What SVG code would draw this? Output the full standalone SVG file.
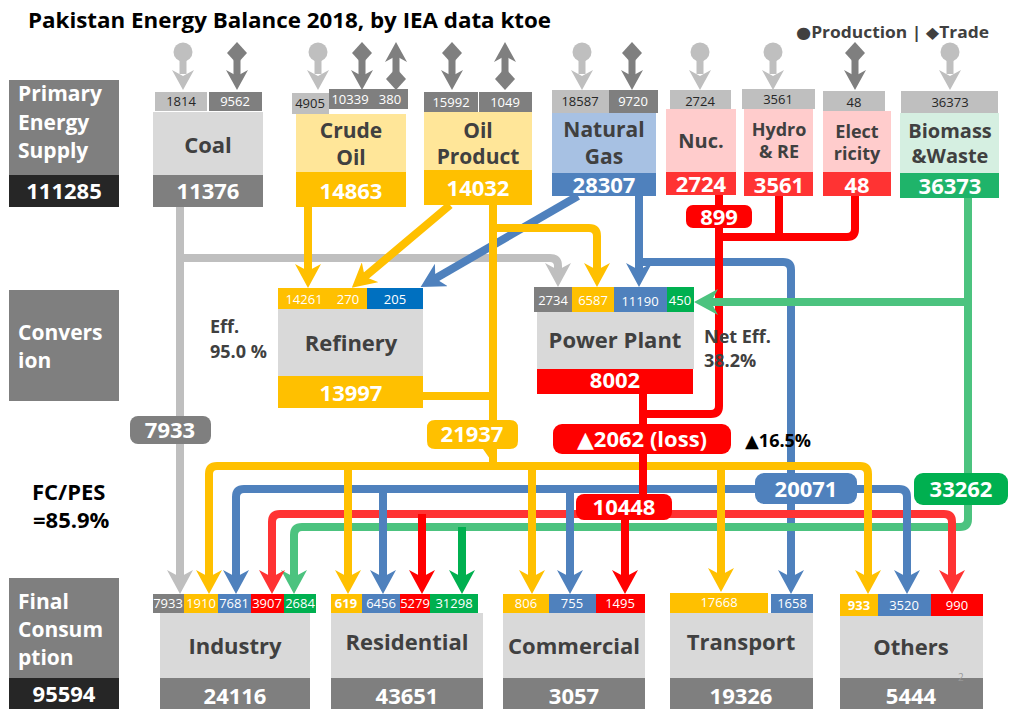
<svg xmlns="http://www.w3.org/2000/svg" width="1024" height="709" viewBox="0 0 1024 709">
<defs>
<style>
text{font-family:"Open Sans","Noto Sans","DejaVu Sans",sans-serif}
.b{font-weight:700}
.w{fill:#fff}
.k{fill:#262626}
.dk{fill:#404040}
.n{font-size:13px;text-anchor:middle}
.m{text-anchor:middle}
.big{font-size:22px;font-weight:700;text-anchor:middle;fill:#fff}
.cat{font-size:21px;font-weight:700;fill:#fff}
.nm{font-weight:700;fill:#404040;text-anchor:middle}
.lg{fill:#7f7f7f}.lt{fill:#bfbfbf}.bx{fill:#d9d9d9}
.gold{fill:#ffc000}.blue{fill:#4f81bd}.red{fill:#ff3333}.grn{fill:#1fb46a}.gd{fill:#00b050}.rd{fill:#ff0000}
.ln{fill:none;stroke-width:8;stroke-linejoin:round}
.sg{stroke:#bfbfbf}.sy{stroke:#ffc000}.sb{stroke:#4f81bd}.sr{stroke:#ff0000}.sr2{stroke:#ff3333}.sgn{stroke:#4cc37f}.sgd{stroke:#00b050}
.ic{fill:#bfbfbf}.it{fill:#7f7f7f}
</style>
<marker id="aG" viewBox="0 0 24 26" refX="12" refY="13" markerWidth="24" markerHeight="26" markerUnits="userSpaceOnUse" orient="auto"><path d="M0,0 L24,13 L0,26 L7,13 z" fill="#bfbfbf"/></marker>
<marker id="aY" viewBox="0 0 24 26" refX="12" refY="13" markerWidth="24" markerHeight="26" markerUnits="userSpaceOnUse" orient="auto"><path d="M0,0 L24,13 L0,26 L7,13 z" fill="#ffc000"/></marker>
<marker id="aB" viewBox="0 0 24 26" refX="12" refY="13" markerWidth="24" markerHeight="26" markerUnits="userSpaceOnUse" orient="auto"><path d="M0,0 L24,13 L0,26 L7,13 z" fill="#4f81bd"/></marker>
<marker id="aR" viewBox="0 0 24 26" refX="12" refY="13" markerWidth="24" markerHeight="26" markerUnits="userSpaceOnUse" orient="auto"><path d="M0,0 L24,13 L0,26 L7,13 z" fill="#ff0000"/></marker>
<marker id="aR2" viewBox="0 0 24 26" refX="12" refY="13" markerWidth="24" markerHeight="26" markerUnits="userSpaceOnUse" orient="auto"><path d="M0,0 L24,13 L0,26 L7,13 z" fill="#ff3333"/></marker>
<marker id="aGn" viewBox="0 0 24 26" refX="12" refY="13" markerWidth="24" markerHeight="26" markerUnits="userSpaceOnUse" orient="auto"><path d="M0,0 L24,13 L0,26 L7,13 z" fill="#4cc37f"/></marker>
<marker id="aGd" viewBox="0 0 24 26" refX="12" refY="13" markerWidth="24" markerHeight="26" markerUnits="userSpaceOnUse" orient="auto"><path d="M0,0 L24,13 L0,26 L7,13 z" fill="#00b050"/></marker>
<g id="prod" class="ic"><circle cx="0" cy="52" r="9.5"/><rect x="-3.5" y="58" width="7" height="16"/><path d="M-11,70 L0,90 L11,70 L0,76 z"/></g>
<g id="imp" class="it"><path d="M0,42 L10,53 L0,64 L-10,53 z"/><rect x="-3.5" y="60" width="7" height="16"/><path d="M-11,70 L0,90 L11,70 L0,76 z"/></g>
<g id="exp" class="it"><path d="M-11,62 L0,42 L11,62 L0,56 z"/><rect x="-3.5" y="56" width="7" height="16"/><path d="M0,68 L10,79 L0,90 L-10,79 z"/></g>
</defs>
<rect width="1024" height="709" fill="#fff"/>

<text x="28" y="28" class="b" font-size="21" fill="#000" textLength="523" lengthAdjust="spacingAndGlyphs">Pakistan Energy Balance 2018, by IEA data ktoe</text>
<text x="796" y="38" class="b dk" font-size="16" textLength="193" lengthAdjust="spacingAndGlyphs">●Production |  ◆Trade</text>

<g id="connectors">
<path class="ln sg" d="M180,207 V582" marker-end="url(#aG)"/>
<path class="ln sg" d="M180,258 H550 Q558,258 558,266 V275" marker-end="url(#aG)"/>
<path class="ln sb" d="M578,196 L431,281" marker-end="url(#aB)"/>
<path class="ln sb" d="M639,196 V275" marker-end="url(#aB)"/>
<path class="ln sb" d="M639,262 H783 Q791,262 791,270 V582" marker-end="url(#aB)"/>
<path class="ln sy" d="M308,207 V276" marker-end="url(#aY)"/>
<path class="ln sy" d="M450,205 L361,280" marker-end="url(#aY)"/>
<path class="ln sy" d="M493,205 V466"/>
<path class="ln sy" d="M493,228 H589 Q597,228 597,236 V275" marker-end="url(#aY)"/>
<path class="ln sy" d="M423,396 H493"/>
<path class="ln sr" d="M779,195 V237"/>
<path class="ln sr" d="M855,195 V229 Q855,237 847,237 H719"/>
<path class="ln sr" d="M719,195 V406 Q719,414 711,414 H643"/>
<path class="ln sgn" d="M968,302 H706" marker-end="url(#aGn)"/>
<path class="ln sgn" d="M968,198 V519 Q968,527 960,527 H302 Q294,527 294,535 V582" marker-end="url(#aGn)"/>
<path class="ln sgd" d="M462,527 V582" marker-end="url(#aGd)"/>
<path class="ln sr2" d="M600,514 H280 Q272,514 272,522 V582" marker-end="url(#aR2)"/>
<path class="ln sr2" d="M600,514 H944 Q952,514 952,522 V582" marker-end="url(#aR2)"/>
<path class="ln sr" d="M422,514 V582" marker-end="url(#aR)"/>
<path class="ln sr" d="M625,514 V582" marker-end="url(#aR)"/>
<path class="ln sb" d="M500,489 H244 Q236,489 236,497 V582" marker-end="url(#aB)"/>
<path class="ln sb" d="M500,489 H899 Q907,489 907,497 V582" marker-end="url(#aB)"/>
<path class="ln sb" d="M383,489 V582" marker-end="url(#aB)"/>
<path class="ln sb" d="M570,489 V582" marker-end="url(#aB)"/>
<path class="ln sy" d="M500,466 H217 Q209,466 209,474 V582" marker-end="url(#aY)"/>
<path class="ln sy" d="M500,466 H860 Q868,466 868,474 V582" marker-end="url(#aY)"/>
<path class="ln sy" d="M348,466 V582" marker-end="url(#aY)"/>
<path class="ln sy" d="M532,466 V582" marker-end="url(#aY)"/>
<path class="ln sy" d="M721,466 V580" marker-end="url(#aY)"/>
<path class="ln sr" d="M643,394 V514"/>
</g>

<g id="icons">
<use href="#prod" x="183"/><use href="#imp" x="237"/>
<use href="#prod" x="318"/><use href="#imp" x="362"/><use href="#exp" x="396"/>
<use href="#imp" x="452"/><use href="#exp" x="505"/>
<use href="#prod" x="582"/><use href="#imp" x="632"/>
<use href="#prod" x="700"/>
<use href="#prod" x="773"/>
<use href="#imp" x="855"/>
<use href="#prod" x="950"/>
</g>

<g id="pes">
<rect x="9" y="80" width="110" height="95" class="lg"/>
<rect x="9" y="175" width="110" height="32" fill="#262626"/>
<text x="18" y="101" class="cat">Primary</text>
<text x="18" y="130" class="cat">Energy</text>
<text x="18" y="158" class="cat">Supply</text>
<text x="64" y="199" class="big">111285</text>
</g>

<g id="coal">
<rect x="155" y="92" width="52" height="19" class="lt"/><text x="181" y="106" class="n k">1814</text>
<rect x="209" y="92" width="53" height="19" class="lg"/><text x="235" y="106" class="n w">9562</text>
<rect x="153" y="112" width="110" height="63" class="bx"/>
<text x="208" y="153" class="nm" font-size="22">Coal</text>
<rect x="153" y="175" width="110" height="32" class="lg"/>
<text x="208" y="199" class="big">11376</text>
</g>

<g id="crude">
<rect x="292" y="93" width="37" height="21" class="lt"/><text x="310" y="108" class="n k">4905</text>
<rect x="329" y="89" width="43" height="20" class="lg"/><text x="350" y="104" class="n w">10339</text>
<rect x="372" y="89" width="36" height="20" class="lg"/><text x="390" y="104" class="n w">380</text>
<rect x="296" y="114" width="110" height="58" fill="#ffe699"/>
<text x="351" y="138" class="nm" font-size="21">Crude</text>
<text x="351" y="165" class="nm" font-size="21">Oil</text>
<rect x="296" y="172" width="110" height="35" class="gold"/>
<text x="351" y="199" class="big">14863</text>
</g>

<g id="oilproduct">
<rect x="424" y="92" width="54" height="20" class="lg"/><text x="451" y="107" class="n w">15992</text>
<rect x="479" y="92" width="53" height="20" class="lg"/><text x="505" y="107" class="n w">1049</text>
<rect x="424" y="112" width="108" height="58" fill="#ffe699"/>
<text x="478" y="138" class="nm" font-size="21">Oil</text>
<text x="478" y="164" class="nm" font-size="21">Product</text>
<rect x="424" y="170" width="108" height="35" class="gold"/>
<text x="478" y="196" class="big">14032</text>
</g>

<g id="natgas">
<rect x="552" y="90" width="57" height="23" class="lt"/><text x="580" y="106" class="n k">18587</text>
<rect x="609" y="90" width="49" height="23" class="lg"/><text x="633" y="106" class="n w">9720</text>
<rect x="552" y="113" width="104" height="60" fill="#a7c1e3"/>
<text x="604" y="137" class="nm" font-size="21">Natural</text>
<text x="604" y="164" class="nm" font-size="21">Gas</text>
<rect x="552" y="173" width="104" height="23" class="blue"/>
<text x="604" y="193" class="big">28307</text>
</g>

<g id="nuclear">
<rect x="670" y="90" width="61" height="22" class="lt"/><text x="700" y="106" class="n k">2724</text>
<rect x="666" y="109" width="70" height="63" fill="#ffcccc"/>
<text x="701" y="148" class="nm" font-size="20">Nuc.</text>
<rect x="666" y="172" width="70" height="23" class="red"/>
<text x="701" y="192" class="big" font-size="20">2724</text>
</g>

<g id="hydro">
<rect x="742" y="89" width="73" height="20" class="lt"/><text x="778" y="104" class="n k">3561</text>
<rect x="744" y="109" width="69" height="63" fill="#ffcccc"/>
<text x="779" y="136" class="nm" font-size="18">Hydro</text>
<text x="779" y="158" class="nm" font-size="18">&amp; RE</text>
<rect x="744" y="172" width="69" height="24" class="red"/>
<text x="779" y="193" class="big" font-size="20">3561</text>
</g>

<g id="electricity">
<rect x="823" y="91" width="62" height="21" class="lt"/><text x="854" y="107" class="n k">48</text>
<rect x="823" y="111" width="68" height="61" fill="#ffcccc"/>
<text x="857" y="138" class="nm" font-size="18">Elect</text>
<text x="857" y="160" class="nm" font-size="18">ricity</text>
<rect x="823" y="172" width="68" height="24" class="red"/>
<text x="857" y="193" class="big" font-size="20">48</text>
</g>

<g id="biomass">
<rect x="901" y="91" width="97" height="22" class="lt"/><text x="950" y="107" class="n k">36373</text>
<rect x="900" y="113" width="99" height="60" fill="#d5efe1"/>
<text x="950" y="138" class="nm" font-size="20">Biomass</text>
<text x="950" y="163" class="nm" font-size="20">&amp;Waste</text>
<rect x="900" y="173" width="99" height="25" class="grn"/>
<text x="950" y="194" class="big">36373</text>
</g>

<g id="conversion">
<rect x="9" y="290" width="110" height="111" class="lg"/>
<text x="18" y="340" class="cat">Convers</text>
<text x="18" y="368" class="cat">ion</text>
</g>

<g id="refinery">
<rect x="278" y="288" width="52" height="21" class="gold"/><text x="304" y="304" class="n w" font-size="14">14261</text>
<rect x="330" y="288" width="37" height="21" class="gold"/><text x="348" y="304" class="n w" font-size="14">270</text>
<rect x="367" y="288" width="56" height="21" fill="#0070c0"/><text x="395" y="304" class="n w" font-size="14">205</text>
<rect x="278" y="309" width="145" height="67" class="bx"/>
<text x="351" y="351" class="nm" font-size="22">Refinery</text>
<rect x="278" y="376" width="145" height="32" class="gold"/>
<text x="351" y="401" class="big">13997</text>
<text x="210" y="333" class="b dk" font-size="18">Eff.</text>
<text x="210" y="358" class="b dk" font-size="18">95.0 %</text>
</g>

<g id="powerplant">
<rect x="534" y="287" width="38" height="25" class="lg"/><text x="553" y="305" class="n w" font-size="14">2734</text>
<rect x="572" y="287" width="42" height="25" class="gold"/><text x="593" y="305" class="n w" font-size="14">6587</text>
<rect x="614" y="287" width="53" height="25" class="blue"/><text x="640" y="306" class="n w" font-size="14">11190</text>
<rect x="667" y="287" width="27" height="25" class="gd"/><text x="680" y="305" class="n w" font-size="14">450</text>
<rect x="537" y="312" width="157" height="57" class="bx"/>
<text x="615" y="348" class="nm" font-size="22">Power Plant</text>
<rect x="537" y="369" width="156" height="25" class="rd"/>
<text x="615" y="388" class="big" font-size="17">8002</text>
<text x="704" y="343" class="b dk" font-size="18">Net Eff.</text>
<text x="704" y="367" class="b dk" font-size="18">38.2%</text>
</g>

<g id="flow-labels">
<rect x="130" y="416" width="81" height="28" rx="8" class="lg"/><text x="170" y="438" class="big">7933</text>
<path d="M427,428 Q427,420 435,420 H510 Q518,420 518,428 V441 Q518,449 510,449 H497 L490,459 L483,449 H435 Q427,449 427,441 z" class="gold"/>
<text x="472" y="442" class="big">21937</text>
<rect x="686" y="205" width="66" height="23" rx="7" class="rd"/><text x="719" y="225" class="big" font-size="21">899</text>
<rect x="553" y="424" width="178" height="30" rx="9" class="rd"/><text x="642" y="447" class="big">▲2062 (loss)</text>
<text x="745" y="447" class="b" font-size="18" fill="#000">▲16.5%</text>
<rect x="576" y="494" width="96" height="26" rx="8" class="rd"/><text x="624" y="515" class="big">10448</text>
<rect x="755" y="473" width="102" height="31" rx="9" class="blue"/><text x="806" y="497" class="big">20071</text>
<rect x="914" y="473" width="94" height="32" rx="9" class="gd"/><text x="961" y="497" class="big">33262</text>
<text x="32" y="500" class="b" font-size="22" fill="#000">FC/PES</text>
<text x="33" y="528" class="b" font-size="22" fill="#000">=85.9%</text>
</g>

<g id="final">
<rect x="9" y="578" width="110" height="100" class="lg"/>
<rect x="9" y="678" width="110" height="31" fill="#262626"/>
<text x="18" y="609" class="cat">Final</text>
<text x="18" y="637" class="cat">Consum</text>
<text x="18" y="665" class="cat">ption</text>
<text x="64" y="702" class="big">95594</text>
</g>

<g id="industry">
<rect x="153" y="594" width="31" height="19" class="lg"/><text x="168" y="608" class="n w">7933</text>
<rect x="184" y="594" width="34" height="19" class="gold"/><text x="201" y="608" class="n w">1910</text>
<rect x="218" y="594" width="33" height="19" class="blue"/><text x="234" y="608" class="n w">7681</text>
<rect x="251" y="594" width="33" height="19" class="rd"/><text x="267" y="608" class="n w">3907</text>
<rect x="284" y="594" width="32" height="19" class="gd"/><text x="300" y="608" class="n w">2684</text>
<rect x="160" y="613" width="150" height="65" class="bx"/>
<text x="235" y="654" class="nm" font-size="22">Industry</text>
<rect x="160" y="678" width="150" height="31" class="lg"/>
<text x="235" y="704" class="big">24116</text>
</g>

<g id="residential">
<rect x="331" y="594" width="31" height="19" class="gold"/><text x="346" y="608" class="n w b">619</text>
<rect x="362" y="594" width="38" height="19" class="blue"/><text x="381" y="608" class="n w">6456</text>
<rect x="400" y="594" width="30" height="19" class="rd"/><text x="415" y="608" class="n w">5279</text>
<rect x="430" y="594" width="48" height="19" class="gd"/><text x="454" y="608" class="n w">31298</text>
<rect x="331" y="613" width="152" height="65" class="bx"/>
<text x="407" y="650" class="nm" font-size="22">Residential</text>
<rect x="331" y="678" width="152" height="31" class="lg"/>
<text x="407" y="704" class="big">43651</text>
</g>

<g id="commercial">
<rect x="503" y="594" width="46" height="19" class="gold"/><text x="526" y="608" class="n w">806</text>
<rect x="549" y="594" width="47" height="19" class="blue"/><text x="572" y="608" class="n w">755</text>
<rect x="596" y="594" width="49" height="19" class="rd"/><text x="620" y="608" class="n w">1495</text>
<rect x="503" y="613" width="142" height="65" class="bx"/>
<text x="574" y="654" class="nm" font-size="22">Commercial</text>
<rect x="503" y="678" width="142" height="31" class="lg"/>
<text x="574" y="704" class="big">3057</text>
</g>

<g id="transport">
<rect x="670" y="593" width="98" height="20" class="gold"/><text x="719" y="607" class="n w" font-size="12">17668</text>
<rect x="771" y="594" width="42" height="19" class="blue"/><text x="792" y="608" class="n w" font-size="12">1658</text>
<rect x="670" y="613" width="143" height="65" class="bx"/>
<text x="741" y="650" class="nm" font-size="22">Transport</text>
<rect x="670" y="678" width="143" height="31" class="lg"/>
<text x="741" y="704" class="big">19326</text>
</g>

<g id="others">
<rect x="840" y="594" width="38" height="22" class="gold"/><text x="859" y="610" class="n w b">933</text>
<rect x="878" y="594" width="53" height="22" class="blue"/><text x="904" y="610" class="n w">3520</text>
<rect x="931" y="594" width="52" height="22" class="rd"/><text x="957" y="610" class="n w">990</text>
<rect x="840" y="616" width="143" height="62" class="bx"/>
<text x="911" y="655" class="nm" font-size="22">Others</text>
<rect x="840" y="678" width="143" height="31" class="lg"/>
<text x="911" y="704" class="big">5444</text>
<text x="958" y="681" font-size="10" fill="#999">2</text>
</g>
</svg>
